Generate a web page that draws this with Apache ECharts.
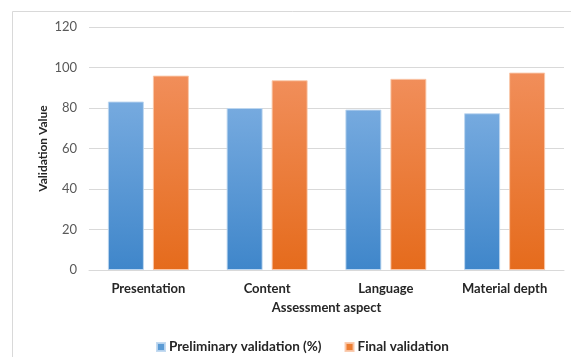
<!DOCTYPE html>
<html>
<head>
<meta charset="utf-8">
<script src="https://cdn.jsdelivr.net/npm/echarts@6/dist/echarts.min.js"></script>
<style>
html,body{margin:0;padding:0;background:#fff;}
#c{width:571px;height:357px;}
</style>
</head>
<body>
<div id="c"></div>
<script>
const categories = ['Presentation', 'Content', 'Language', 'Material depth'];
const preliminary = [83.2, 80.0, 79.2, 77.4];
const finalValidation = [96.0, 93.7, 94.4, 97.5];
const yTicks = [0, 20, 40, 60, 80, 100, 120];
const seriesNames = ['Preliminary validation (%)', 'Final validation'];

const FONT = 'Lato';
const chart = echarts.init(document.getElementById('c'), null, {renderer: 'canvas'});

function grad(top, bottom) {
  return new echarts.graphic.LinearGradient(0, 0, 0, 1, [
    {offset: 0, color: top},
    {offset: 1, color: bottom}
  ]);
}

chart.setOption({
  animation: false,
  backgroundColor: '#ffffff',
  textStyle: {fontFamily: FONT},
  graphic: [{
    type: 'rect',
    shape: {x: 12.5, y: 11.5, width: 600, height: 400},
    style: {fill: 'none', stroke: '#d9d9d9', lineWidth: 1},
    silent: true, z: -10
  }],
  grid: {left: 89, right: 7, top: 27, bottom: 87, containLabel: false},
  legend: {
    top: 335,
    left: 151,
    itemWidth: 8,
    itemHeight: 8,
    itemGap: 23,
    icon: 'rect',
    textStyle: {fontFamily: FONT, fontSize: 13.5, fontWeight: 'bold', color: '#262626', padding: [0, 0, 0, -1]},
    data: [
      {name: seriesNames[0], itemStyle: {color: '#5b9bd5'}},
      {name: seriesNames[1], itemStyle: {color: '#ed7d31'}}
    ]
  },
  xAxis: {
    type: 'category',
    data: categories,
    name: 'Assessment aspect',
    nameLocation: 'middle',
    nameGap: 31,
    nameMoveOverlap: false,
    nameTextStyle: {fontFamily: FONT, fontSize: 13, fontWeight: 'bold', color: '#262626'},
    axisLine: {lineStyle: {color: '#d9d9d9', width: 1}},
    axisTick: {show: false},
    axisLabel: {fontFamily: FONT, fontSize: 13, fontWeight: 'bold', color: '#262626', margin: 12}
  },
  yAxis: {
    type: 'value',
    min: yTicks[0],
    max: yTicks[yTicks.length - 1],
    interval: 20,
    name: 'Validation Value',
    nameLocation: 'middle',
    nameGap: 40,
    nameMoveOverlap: false,
    nameTextStyle: {fontFamily: FONT, fontSize: 12, fontWeight: 'bold', color: '#262626'},
    axisLine: {show: false},
    axisTick: {show: false},
    axisLabel: {fontFamily: FONT, fontSize: 13, color: '#595959', margin: 12},
    splitLine: {lineStyle: {color: '#d9d9d9', width: 1}}
  },
  series: [
    {
      name: seriesNames[0],
      type: 'bar',
      data: preliminary,
      barWidth: 36,
      barGap: '25%',
      itemStyle: {color: grad('#76aadf', '#3f86ca'), borderColor: 'rgba(190,215,240,0.9)', borderWidth: 1}
    },
    {
      name: seriesNames[1],
      type: 'bar',
      data: finalValidation,
      barWidth: 36,
      barGap: '25%',
      itemStyle: {color: grad('#f18e5a', '#e56b1c'), borderColor: 'rgba(250,200,170,0.9)', borderWidth: 1}
    }
  ]
});
</script>
</body>
</html>
